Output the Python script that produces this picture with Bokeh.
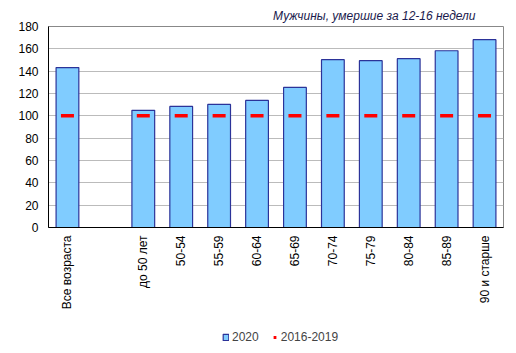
from bokeh.plotting import figure
from bokeh.models import ColumnDataSource, Legend, LegendItem, Title
from bokeh.layouts import column
from bokeh.embed import file_html
from bokeh.resources import INLINE
from math import pi

categories = ["Все возраста", " ", "до 50 лет", "50-54", "55-59", "60-64", "65-69",
              "70-74", "75-79", "80-84", "85-89", "90 и старше"]
bar_cats = ["Все возраста", "до 50 лет", "50-54", "55-59", "60-64", "65-69",
            "70-74", "75-79", "80-84", "85-89", "90 и старше"]
values_2020 = [143.2, 104.9, 108.4, 110.2, 113.8, 125.4, 150.3, 149.4, 151.2, 158.3, 168.2]
values_base = [100, 100, 100, 100, 100, 100, 100, 100, 100, 100, 100]
y_ticks = [0, 20, 40, 60, 80, 100, 120, 140, 160, 180]
series_names = ["2020", "2016-2019"]

FONT = "Liberation Sans"
BAR_FILL = "#80CCFF"
BAR_LINE = "#2B3399"
RED = "#FF0000"

src = ColumnDataSource(dict(x=bar_cats, top=values_2020, base=values_base))

p = figure(width=516, height=312, x_range=categories, y_range=(0, 180),
           output_backend="svg", toolbar_location=None,
           min_border_left=48, min_border_right=13, min_border_top=26,
           min_border_bottom=84)

p.vbar(x="x", top="top", width=0.6, source=src,
       fill_color=BAR_FILL, line_color=BAR_LINE, line_width=1.2)
p.scatter(x="x", y="base", source=src, marker="dash", size=13,
          line_color=RED, line_width=3.5)

t = Title(text="Мужчины, умершие за 12-16 недели", align="right",
          text_font=FONT, text_font_style="italic", text_font_size="12px",
          text_color="#1a1a4d", offset=28, standoff=7)
p.add_layout(t, "above")

p.yaxis.ticker = y_ticks
p.yaxis.major_label_text_font = FONT
p.yaxis.major_label_text_font_size = "12px"
p.yaxis.major_label_text_color = "#000000"
p.yaxis.major_tick_out = 0
p.yaxis.major_tick_in = 0
p.yaxis.minor_tick_out = 0
p.yaxis.minor_tick_in = 0
p.yaxis.axis_line_color = "#000000"
p.yaxis.major_label_standoff = 10

p.xaxis.major_label_orientation = pi / 2
p.xaxis.major_label_text_font = FONT
p.xaxis.major_label_text_font_size = "12px"
p.xaxis.major_label_text_color = "#000000"
p.xaxis.major_tick_out = 0
p.xaxis.major_tick_in = 0
p.xaxis.axis_line_color = "#000000"
p.xaxis.major_label_standoff = 8

p.xgrid.grid_line_color = None
p.ygrid.grid_line_color = "#BBBBBB"
p.outline_line_color = "#888888"
p.x_range.range_padding = 0

# legend strip (proxy renderers sit outside the visible range; only their legend glyphs show)
lf = figure(width=516, height=41, x_range=(0, 1), y_range=(0, 1),
            output_backend="svg", toolbar_location=None,
            x_axis_location=None, y_axis_location=None,
            min_border=0, min_border_left=0, min_border_right=0,
            min_border_top=0, min_border_bottom=0)
lf.grid.grid_line_color = None
lf.outline_line_color = None
r_bar = lf.vbar(x=[0.5], top=[-1], bottom=[-2], width=0.5,
                fill_color=BAR_FILL, line_color=BAR_LINE, line_width=1.2)
r_red = lf.scatter(x=[0.5], y=[-2], marker="dash", size=6,
                   line_color=RED, line_width=3)

legend = Legend(items=[LegendItem(label=series_names[0], renderers=[r_bar]),
                       LegendItem(label=series_names[1], renderers=[r_red])],
                orientation="horizontal", location=(174, 9),
                label_text_font=FONT, label_text_font_size="12px",
                glyph_width=7, glyph_height=8, spacing=12, label_standoff=3,
                border_line_color=None, background_fill_alpha=0,
                margin=0, padding=2)
lf.add_layout(legend, "center")

layout = column(p, lf, spacing=0)
open("out.html", "w").write(file_html(layout, INLINE))
